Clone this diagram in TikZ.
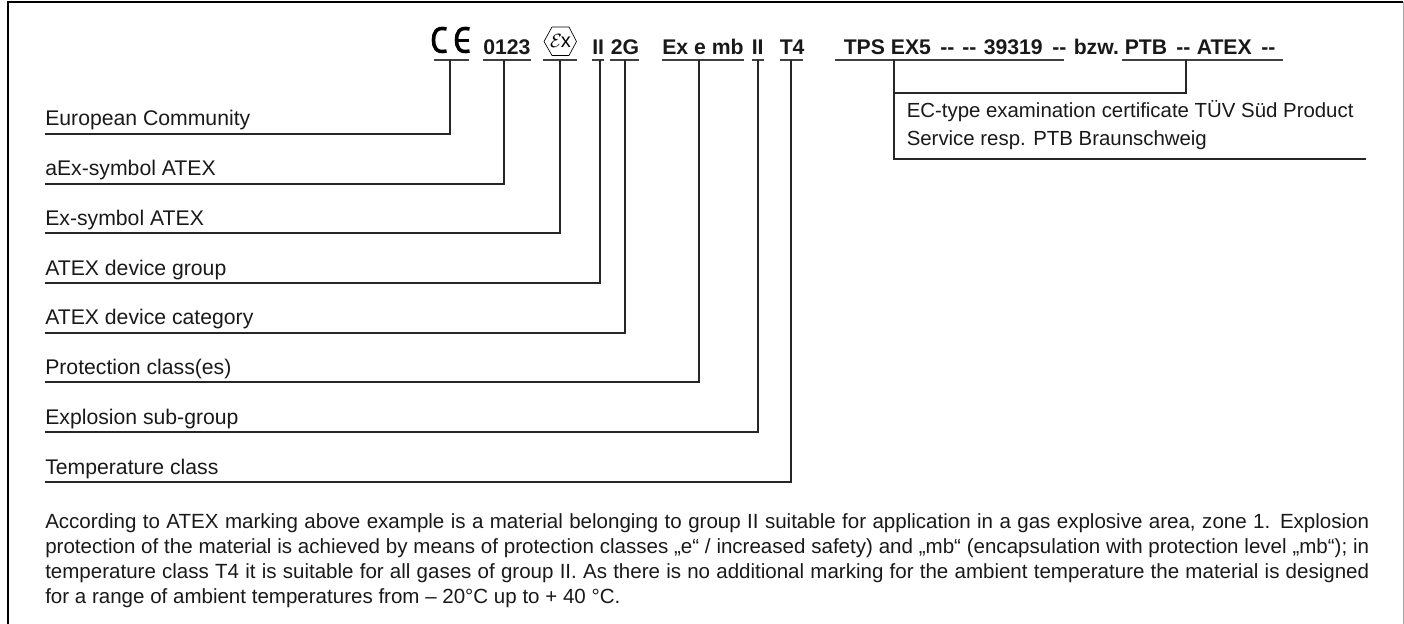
\documentclass[tikz,border=0pt]{standalone}
\usepackage{fontspec}
\setmainfont{Liberation Sans}
\tikzset{
 x=0.75pt,y=-0.75pt,
 frame/.style={line width=1.7pt,draw=black},
 sideframe/.style={line width=1pt,draw=black!35},
 conn/.style={line width=0.9pt,draw=black!85,line join=miter},
 under/.style={line width=0.9pt,draw=black!75},
 logo/.style={line width=2.7pt,draw=black,line cap=butt},
 lab/.style={anchor=base west,inner sep=0pt,font=\fontsize{15.9pt}{18pt}\selectfont,text=black!90},
 cert/.style={anchor=base west,inner sep=0pt,font=\fontsize{15.3pt}{18pt}\selectfont,text=black!90},
 code/.style={anchor=base west,inner sep=0pt,font=\fontsize{15.9pt}{18pt}\selectfont\bfseries,text=black!90},
 para/.style={anchor=base west,inner sep=0pt,font=\fontsize{15.4pt}{18pt}\selectfont,text=black!90},
}
\newcommand{\fullline}[1]{\hbox to 993pt{#1}}
\begin{document}
\begin{tikzpicture}
\useasboundingbox (0,0) rectangle (1404,624);
\draw[frame] (8,624) -- (8,2.2) -- (1403,2.2);
\draw[sideframe] (1403.5,2) -- (1403.5,624);
% CE mark
\draw[logo] (446.5,29) .. controls (436,26.5) and (433.5,33) .. (433.5,40) .. controls (433.5,47) and (436,53.5) .. (446.5,51);
\draw[logo] (469.5,29) .. controls (459,26.5) and (456.5,33) .. (456.5,40) .. controls (456.5,47) and (459,53.5) .. (469.5,51);
\draw[line width=1.7pt,black] (457,40.5) -- (468.5,40.5);
\node[code] (n0123) at (483,55) {0123};
% Ex hexagon
\draw[line width=0.5pt,black] (544,41.5) -- (552,27) -- (569,27) -- (576.5,41.5) -- (569,55.5) -- (552,55.5) -- cycle;
\node[inner sep=0pt,font=\fontsize{15pt}{15pt}\selectfont] (extext) at (560.5,41) {$\mathcal{E}\mkern-1mu\mathrm{x}$};
\node[code] (ii) at (592,55) {II};
\node[code] (g) at (610.5,55) {2G};
\node[code] (prot) at (662,55) {Ex e mb};
\node[code] (iib) at (751.5,55) {II};
\node[code] (t4) at (779.5,55) {T4};
\node[code] (tps) at (843.5,55) {TPS EX5};
\node[code] (d1) at (940,55) {-{}-};
\node[code] (d2) at (962,55) {-{}-};
\node[code] (num) at (983.5,55) {39319};
\node[code] (d3) at (1052,55) {-{}-};
\node[code] (bzw) at (1073.5,55) {bzw.};
\node[code] (ptb) at (1124.5,55) {PTB};
\node[code] (d4) at (1176,55) {-{}-};
\node[code] (atex) at (1196.5,55) {ATEX};
\node[code] (d5) at (1261,55) {-{}-};
% underlines
\draw[under] (434,60) -- (469,60);
\draw[under] (483,60) -- (531,60);
\draw[under] (543,60) -- (577,60);
\draw[under] (592,60) -- (604,60);
\draw[under] (610,60) -- (639,60);
\draw[under] (662,60) -- (744,60);
\draw[under] (752,60) -- (764,60);
\draw[under] (780,60) -- (803,60);
\draw[under] (835,60) -- (1064,60);
\draw[under] (1121.5,60) -- (1283,60);
% anchor points
\coordinate (u1) at (450,60);
\coordinate (u2) at (504,60);
\coordinate (u3) at (560,60);
\coordinate (u4) at (600,60);
\coordinate (u5) at (625,60);
\coordinate (u6) at (699,60);
\coordinate (u7) at (758,60);
\coordinate (u8) at (791,60);
\coordinate (u9) at (894,60);
\coordinate (u10) at (1186,60);
\coordinate (s1) at (45,134);
\coordinate (s2) at (45,184);
\coordinate (s3) at (45,233);
\coordinate (s4) at (45,283);
\coordinate (s5) at (45,333);
\coordinate (s6) at (45,382);
\coordinate (s7) at (45,432);
\coordinate (s8) at (45,482);
\coordinate (e9) at (1366,159);
\coordinate (j9) at (894,93);
% labels
\node[lab] (l1) at (45,125.7) {European Community};
\node[lab] (l2) at (45,176) {aEx-symbol ATEX};
\node[lab] (l3) at (45,226) {Ex-symbol ATEX};
\node[lab] (l4) at (45,275.5) {ATEX device group};
\node[lab] (l5) at (45,325) {ATEX device category};
\node[lab] (l6) at (45,374) {Protection class(es)};
\node[lab] (l7) at (45,424) {Explosion sub-group};
\node[lab] (l8) at (45,474) {Temperature class};
\draw[conn] (s1) -| (u1);
\draw[conn] (s2) -| (u2);
\draw[conn] (s3) -| (u3);
\draw[conn] (s4) -| (u4);
\draw[conn] (s5) -| (u5);
\draw[conn] (s6) -| (u6);
\draw[conn] (s7) -| (u7);
\draw[conn] (s8) -| (u8);
\draw[conn] (u9) |- (e9);
\draw[conn] (j9) -| (u10);
\node[cert] (c1) at (906.5,118) {EC-type examination certificate TÜV Süd Product};
\node[cert] (c2) at (906.5,146) {Service resp. PTB Braunschweig};
\node[para] (p1) at (45,528) {\fullline{According to ATEX marking above example is a material belonging to group II suitable for application in a gas explosive area, zone 1. Explosion}};
\node[para] (p2) at (45,553) {\fullline{protection of the material is achieved by means of protection classes „e“ / increased safety) and „mb“ (encapsulation with protection level „mb“); in}};
\node[para] (p3) at (45,578) {\fullline{temperature class T4 it is suitable for all gases of group II. As there is no additional marking for the ambient temperature the material is designed}};
\node[para] (p4) at (45,603) {for a range of ambient temperatures from – 20°C up to + 40 °C.};
\end{tikzpicture}
\end{document}
